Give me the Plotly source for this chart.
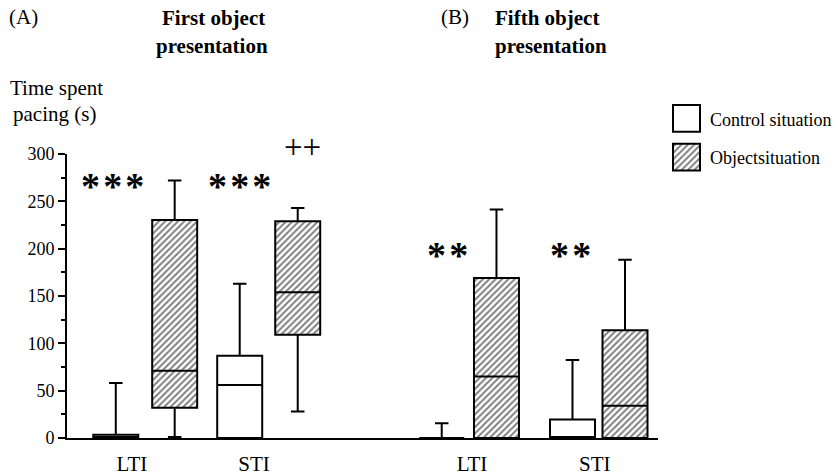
import plotly.graph_objects as go

# ---------------- data ----------------
categories = ["LTI", "STI", "LTI", "STI"]
control_q1 = [0, 0, 0, 0]
control_median = [0, 56, 0, 0]
control_q3 = [3.5, 87, 0, 19.5]
control_lower = [0, 0, 0, 0]
control_upper = [58, 163, 15.5, 82.5]
object_q1 = [32, 109, 0, 0]
object_median = [71, 154, 65, 34]
object_q3 = [230.5, 229, 169, 114]
object_lower = [1, 28, 0, 0]
object_upper = [272, 243, 241.5, 188.5]
significance = ["***", "***", "**", "**"]
between_time_sig = "++"
y_ticks = [0, 50, 100, 150, 200, 250, 300]

# ---------------- layout helpers ----------------
W, H = 838, 476
L, R, T, B = 67, 0, 90, 36
PW, PH = W - L - R, H - T - B
def px(p): return (p - L) / PW
def py(p): return (H - B - p) / PH

control_x = [1.084, 3.838, 8.327, 11.233]
object_x = [2.393, 5.127, 9.544, 12.4]
label_x = [1.444, 4.156, 9.0, 11.73]
sig_x = [1.02, 3.84, 8.46, 11.18]
sig_y = [266, 266, 193, 193]
FONT = "Liberation Serif"
BOXW = 1.0
HATCH = dict(shape="/", fgcolor="black", bgcolor="white", size=4.5, solidity=0.45)

fig = go.Figure()

# hatched fill of object boxes
fig.add_trace(go.Bar(
    x=object_x, base=object_q1,
    y=[a - b for a, b in zip(object_q3, object_q1)],
    width=BOXW,
    marker=dict(color="white", line=dict(width=0), pattern=HATCH),
    showlegend=False, hoverinfo="skip"))

fig.add_trace(go.Box(
    x=control_x, q1=control_q1, median=control_median, q3=control_q3,
    lowerfence=control_lower, upperfence=control_upper,
    width=BOXW, whiskerwidth=0.3, fillcolor="rgba(255,255,255,0)",
    line=dict(color="black", width=2), boxpoints=False, showlegend=False))

fig.add_trace(go.Box(
    x=object_x, q1=object_q1, median=object_median, q3=object_q3,
    lowerfence=object_lower, upperfence=object_upper,
    width=BOXW, whiskerwidth=0.3, fillcolor="rgba(255,255,255,0)",
    line=dict(color="black", width=2), boxpoints=False, showlegend=False))

# legend swatches on a small separate axis pair
lx0, lx1 = 673, 700
ly_top, ly_bot = 105, 171
fig.add_trace(go.Bar(
    x=[0.5], y=[27], base=[39], width=1, xaxis="x2", yaxis="y2",
    marker=dict(color="white", line=dict(color="black", width=2)),
    showlegend=False, hoverinfo="skip"))
fig.add_trace(go.Bar(
    x=[0.5], y=[27], base=[0], width=1, xaxis="x2", yaxis="y2",
    marker=dict(color="white", line=dict(color="black", width=2), pattern=HATCH),
    showlegend=False, hoverinfo="skip"))

ann = []
for x, s, y in zip(sig_x, significance, sig_y):
    ann.append(dict(x=x, y=y, xref="x", yref="y", text="<b>" + "\u200a".join(s) + "</b>", showarrow=False,
                    font=dict(family=FONT, size=38, color="black"), xanchor="center", yanchor="middle"))
ann.append(dict(x=5.24, y=py(147), xref="x", yref="paper", text=between_time_sig, showarrow=False,
                font=dict(family=FONT, size=33, color="black"), xanchor="center", yanchor="middle"))

def text(t, xp, yp, size=21, bold=False, anchor="left"):
    ann.append(dict(x=px(xp), y=py(yp), xref="paper", yref="paper",
                    text=f"<b>{t}</b>" if bold else t, showarrow=False,
                    font=dict(family=FONT, size=size, color="black"),
                    xanchor=anchor, yanchor="middle"))

text("(A)", 7, 17)
text("First object", 213, 18, bold=True, anchor="center")
text("presentation", 212, 46, bold=True, anchor="center")
text("(B)", 439, 17)
text("Fifth object", 493, 18, bold=True)
text("presentation", 493, 46, bold=True)
text("Time spent", 8, 88)
text("pacing (s)", 11, 114)
text("Control situation", 708, 120, size=18)
text("Objectsituation", 708, 158, size=18)

fig.update_layout(
    width=W, height=H,
    margin=dict(l=L, r=R, t=T, b=B, pad=0),
    paper_bgcolor="white", plot_bgcolor="white",
    font=dict(family=FONT, color="black"),
    barmode="overlay", boxmode="overlay",
    xaxis=dict(domain=[0, px(658)], range=[0, (658 - L) / 45.0],
               showline=True, linecolor="black", linewidth=2,
               tickvals=label_x, ticktext=categories, ticks="", ticklabelstandoff=6,
               tickfont=dict(family=FONT, size=21), showgrid=False, zeroline=False),
    yaxis=dict(domain=[0, py(154.5)], range=[0, 300],
               showline=True, linecolor="black", linewidth=2,
               tickvals=y_ticks, ticks="outside", ticklen=7, tickwidth=1.5, tickcolor="black",
               minor=dict(dtick=25, tick0=0, ticks="outside", ticklen=4, tickwidth=1.5, tickcolor="black"),
               tickfont=dict(family=FONT, size=18), showgrid=False, zeroline=False),
    xaxis2=dict(domain=[px(lx0 - 1.35), px(lx1 + 1.35)], range=[-0.05, 1.05],
                visible=False, anchor="y2"),
    yaxis2=dict(domain=[py(ly_bot + 1.35), py(ly_top - 1.35)], range=[-1.35, 67.35],
                visible=False, anchor="x2"),
    annotations=ann,
)

fig.write_html("out.html", config={"displayModeBar": False},
               post_script="document.body.style.margin='0';document.body.style.overflow='hidden';")
